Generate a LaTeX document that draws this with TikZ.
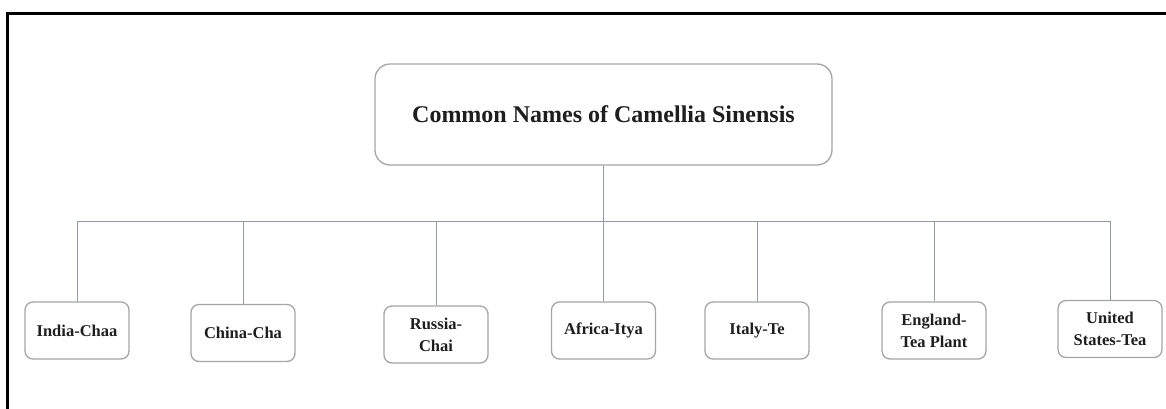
\documentclass[tikz,border=0pt]{standalone}
\usepackage{fontspec}
\setmainfont{Liberation Serif}
\usepackage{tikz}
\usetikzlibrary{positioning}
\definecolor{BoxGray}{RGB}{165,165,165}
\definecolor{LinkGray}{RGB}{145,155,165}
\definecolor{TextDark}{RGB}{30,30,30}

\begin{document}
\begin{tikzpicture}[x=1pt,y=-1pt,
  rootbox/.style={draw=BoxGray,line width=1.3pt,rounded corners=15pt,fill=white,minimum width=457pt,minimum height=101pt,text=TextDark,font=\fontsize{24}{28}\selectfont\bfseries},
  namebox/.style={draw=BoxGray,line width=1.3pt,rounded corners=8pt,fill=white,minimum width=104pt,minimum height=57pt,align=center,text=TextDark,font=\fontsize{16.5}{22}\selectfont\bfseries},
  link/.style={draw=LinkGray,line width=1pt}]
\useasboundingbox (0,0) rectangle (1166,409);
\draw[line width=3pt] (7,409) |- (1166,14);
\node[rootbox] (root) at (603.5,114.5) {Common Names of Camellia Sinensis};
\node[namebox] (india) at (77,330.5) {India-Chaa};
\node[namebox] (china) at (243,333) {China-Cha};
\node[namebox] (russia) at (436,334.5) {Russia-\\Chai};
\node[namebox] (africa) at (603.5,330.5) {Africa-Itya};
\node[namebox] (italy) at (757,330.5) {Italy-Te};
\node[namebox] (england) at (934,330.5) {England-\\Tea Plant};
\node[namebox] (usa) at (1110,329) {United\\States-Tea};
\foreach \c in {india,china,russia,africa,italy,england,usa}
  \draw[link] (root.south) -- ++(0,56) -| (\c.north);
\end{tikzpicture}
\end{document}
